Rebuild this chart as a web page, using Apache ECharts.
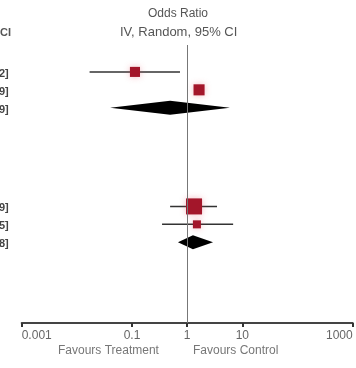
<!DOCTYPE html>
<html>
<head>
<meta charset="utf-8">
<script src="https://cdn.jsdelivr.net/npm/echarts@6/dist/echarts.min.js"></script>
<style>
html, body { margin: 0; padding: 0; background: #fff; }
#forest { width: 356px; height: 368px; }
</style>
</head>
<body>
<div id="forest"></div>
<script>
// studies (odds ratio with 95% CI)
var studyRow = [1.5, 2.5, 9, 10];
var studyOR = [0.113, 1.64, 1.33, 1.5];
var studyLo = [0.017, 1.35, 0.49, 0.35];
var studyHi = [0.74, 2.0, 3.47, 6.8];
var studyWeight = [33, 40, 84, 21];
var studyTail = ['2]', '9]', '9]', '5]'];

// subtotals (diamonds)
var totalRow = [3.5, 11];
var totalOR = [0.49, 1.27];
var totalLo = [0.04, 0.68];
var totalHi = [5.96, 2.94];
var totalTail = ['9]', '8]'];

var tickValues = [0.001, 0.1, 1, 10, 1000];
var tickLabels = ['0.001', '0.1', '1', '10', '1000'];

var chart = echarts.init(document.getElementById('forest'));

var studyData = studyRow.map(function (r, i) {
    return [studyOR[i], r, studyLo[i], studyHi[i], studyWeight[i], i];
});
var totalData = totalRow.map(function (r, i) {
    return [totalOR[i], r, totalLo[i], totalHi[i], i];
});

var FONT = '"Liberation Sans", Arial, sans-serif';

function leftText(api, row, txt) {
    var p = api.coord([0.001, row]);
    return {
        type: 'text',
        style: {
            x: p[0] - 13, y: p[1] + 2,
            text: txt, align: 'right', verticalAlign: 'middle',
            fill: '#444', font: 'bold 11px ' + FONT
        }
    };
}

var option = {
    animation: false,
    grid: { left: 21.7, right: 3.3, top: 45, bottom: 45, outerBoundsMode: 'none', containLabel: false },
    xAxis: {
        type: 'log', logBase: 10, min: 0.001, max: 1000,
        position: 'bottom',
        splitLine: { show: false },
        axisLine: { onZero: false, lineStyle: { color: '#444', width: 2 } },
        axisTick: { customValues: tickValues, length: 4, lineStyle: { color: '#333', width: 2 } },
        axisLabel: {
            customValues: tickValues,
            margin: 7,
            color: '#666',
            fontSize: 12,
            fontFamily: FONT,
            alignMinLabel: 'left',
            alignMaxLabel: 'right',
            formatter: function (v) {
                var k = Math.round(Math.log10(v));
                for (var i = 0; i < tickValues.length; i++) {
                    if (Math.round(Math.log10(tickValues[i])) === k) return tickLabels[i];
                }
                return '';
            }
        }
    },
    yAxis: { type: 'value', min: 0, max: 15.5, inverse: true, show: false },
    graphic: [
        { type: 'text', left: 148, top: 8, style: { text: 'Odds Ratio', fill: '#555', font: '12px ' + FONT } },
        { type: 'text', left: 120, top: 26, style: { text: 'IV, Random, 95% CI', fill: '#555', font: '13px ' + FONT } },
        { type: 'text', left: 0, top: 27, style: { text: 'CI', fill: '#555', font: 'bold 11px ' + FONT } },
        { type: 'text', left: 58, top: 345, style: { text: 'Favours Treatment', fill: '#777', font: '12px ' + FONT } },
        { type: 'text', left: 193, top: 345, style: { text: 'Favours Control', fill: '#777', font: '12px ' + FONT } }
    ],
    series: [
        {
            type: 'custom',
            data: studyData,
            renderItem: function (params, api) {
                var row = api.value(1);
                var c = api.coord([api.value(0), row]);
                var lo = api.coord([api.value(2), row]);
                var hi = api.coord([api.value(3), row]);
                var s = 1.75 * Math.sqrt(api.value(4));
                return {
                    type: 'group',
                    children: [
                        { type: 'line', shape: { x1: lo[0], y1: lo[1], x2: hi[0], y2: hi[1] }, style: { stroke: '#333', lineWidth: 1.5 } },
                        { type: 'rect', shape: { x: c[0] - s / 2, y: c[1] - s / 2, width: s, height: s }, style: { fill: '#a3162a', shadowBlur: 6, shadowColor: 'rgba(220,60,80,0.35)' } },
                        leftText(api, row, studyTail[api.value(5)])
                    ]
                };
            },
            markLine: {
                silent: true, symbol: 'none', label: { show: false },
                lineStyle: { color: '#777', width: 1, type: 'solid' },
                data: [{ xAxis: 1 }]
            },
            z: 3
        },
        {
            type: 'custom',
            data: totalData,
            renderItem: function (params, api) {
                var row = api.value(1);
                var c = api.coord([api.value(0), row]);
                var lo = api.coord([api.value(2), row]);
                var hi = api.coord([api.value(3), row]);
                var h = 7;
                return {
                    type: 'group',
                    children: [
                        { type: 'polygon', shape: { points: [[lo[0], c[1]], [c[0], c[1] - h], [hi[0], c[1]], [c[0], c[1] + h]] }, style: { fill: '#000' } },
                        leftText(api, row, totalTail[api.value(4)])
                    ]
                };
            },
            z: 4
        }
    ]
};

chart.setOption(option);
</script>
</body>
</html>
